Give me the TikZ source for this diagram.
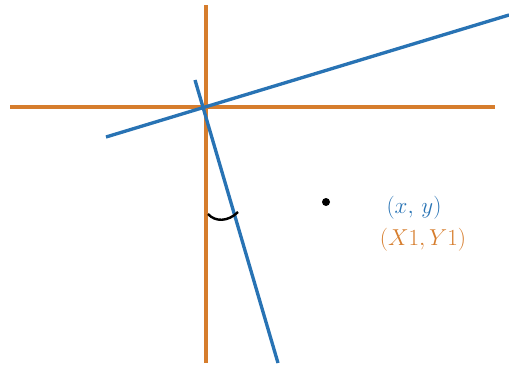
\documentclass[tikz,border=0pt]{standalone}
\definecolor{axisorange}{RGB}{214,125,45}
\definecolor{rotblue}{RGB}{40,115,180}
\begin{document}
\begin{tikzpicture}[x=0.75pt,y=-0.75pt,
  axisline/.style={draw=axisorange,line width=2.6pt},
  rotline/.style={draw=rotblue,line width=2.5pt},
  lbl/.style={inner sep=0pt,font=\fontsize{16.5}{19}\selectfont}]
\useasboundingbox (0,0) rectangle (509,368);
% orange axes
\coordinate (vt) at (206,5);
\coordinate (vb) at (206,363);
\coordinate (hl) at (10,107);
\coordinate (hr) at (495,107);
\draw[axisline] (vt) -- (vb);
\draw[axisline] (hl) -- (hr);
% blue rotated axes
\coordinate (bl) at (106,137);
\coordinate (br) at (509,15);
\coordinate (bt) at (195,80);
\coordinate (bb) at (278,363);
\draw[rotline] (bl) -- (br);
\draw[rotline] (bt) -- (bb);
% angle arc
\coordinate (a1) at (208,214);
\coordinate (a2) at (238,212);
\draw[black,line width=1.8pt] (a1) .. controls (215,222) and (228,222) .. (a2);
% point
\node[circle,fill=black,inner sep=0pt,minimum size=6pt] (pt) at (326,202) {};
\node[lbl,text=rotblue] (xy) at (414,208) {$(x,\,y)$};
\node[lbl,text=axisorange] (XY) at (423,240) {$(X1,Y1)$};
\end{tikzpicture}
\end{document}
